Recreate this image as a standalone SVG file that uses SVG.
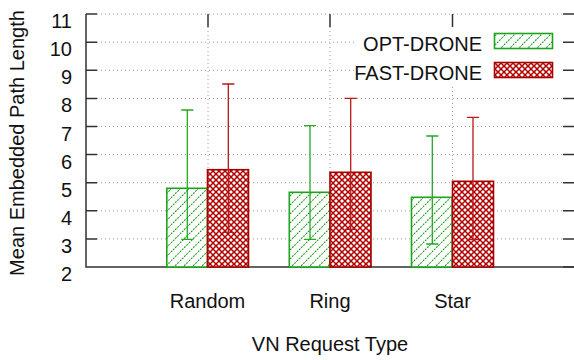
<svg xmlns="http://www.w3.org/2000/svg" width="574" height="360" viewBox="0 0 574 360">
<style>
text{font-family:"Liberation Sans",Arial,sans-serif;font-size:20px;fill:#111}
.grid{stroke:#9a9a9a;stroke-width:1;stroke-dasharray:1,3;fill:none}
.axis{stroke:#333;stroke-width:1.5;fill:none}
.gbar{fill:url(#hatchG);stroke:#1da41d;stroke-width:1.6}
.rbar{fill:url(#hatchR);stroke:#a80000;stroke-width:1.6}
.gerr{stroke:#22a822;stroke-width:1.3;fill:none}
.rerr{stroke:#b81818;stroke-width:1.3;fill:none}
.ytl{text-anchor:end}
.xtl{text-anchor:middle}
</style>
<defs>
<pattern id="hatchG" patternUnits="userSpaceOnUse" width="9" height="9">
<rect width="9" height="9" fill="#fff"/>
<path d="M0,9 L9,0" stroke="#129c12" stroke-width="1.1" stroke-dasharray="1.8,1.2"/>
</pattern>
<pattern id="hatchR" patternUnits="userSpaceOnUse" width="6" height="6">
<rect width="6" height="6" fill="#fff"/>
<path d="M-1,-1 L7,7 M-1,7 L7,-1" stroke="#b00000" stroke-width="1.5"/>
</pattern>
</defs>
<rect width="574" height="360" fill="#fff"/>
<g id="grid">
<path class="grid" d="M97,14.1H563M97,42.2H563M97,70.3H563M97,98.4H563M97,126.5H563M97,154.6H563M97,182.7H563M97,210.8H563M97,238.9H563"/>
<path class="grid" d="M208,27V267M330,27V267M452.5,27V267"/>
</g>
<g id="axes">
<path class="axis" d="M86,14V267H574"/>
<path class="axis" d="M86,14.1H97M86,42.2H97M86,70.3H97M86,98.4H97M86,126.5H97M86,154.6H97M86,182.7H97M86,210.8H97M86,238.9H97"/>
<path class="axis" d="M563,14.1H574M563,42.2H574M563,70.3H574M563,98.4H574M563,126.5H574M563,154.6H574M563,182.7H574M563,210.8H574M563,238.9H574M563,267H574"/>
<path class="axis" d="M208,14V27M330,14V27M452.5,14V27"/>
</g>
<g id="ytick-labels">
<text class="ytl" x="72" y="28">11</text>
<text class="ytl" x="72" y="56">10</text>
<text class="ytl" x="72" y="84">9</text>
<text class="ytl" x="72" y="112">8</text>
<text class="ytl" x="72" y="141">7</text>
<text class="ytl" x="72" y="169">6</text>
<text class="ytl" x="72" y="197">5</text>
<text class="ytl" x="72" y="225">4</text>
<text class="ytl" x="72" y="253">3</text>
<text class="ytl" x="72" y="281">2</text>
</g>
<g id="legend">
<rect x="357" y="27" width="205" height="58" fill="#fff"/>
<text x="482" y="51" text-anchor="end">OPT-DRONE</text>
<rect class="gbar" x="494.5" y="33.5" width="58" height="15"/>
<text x="482" y="80" text-anchor="end">FAST-DRONE</text>
<rect class="rbar" x="494.5" y="62.5" width="58" height="15"/>
</g>
<g id="bar-random-opt">
<rect class="gbar" x="166.8" y="188.3" width="40.7" height="78.7"/>
<path class="gerr" d="M187.3,110V239.3M181.2,110H193.4M181.2,239.3H193.4"/>
</g>
<g id="bar-random-fast">
<rect class="rbar" x="207.5" y="169.7" width="41" height="97.3"/>
<path class="rerr" d="M228.3,84V232.3M222.2,84H234.4M222.2,232.3H234.4"/>
</g>
<g id="bar-ring-opt">
<rect class="gbar" x="289.3" y="192.3" width="40.7" height="74.7"/>
<path class="gerr" d="M310,125.7V239.3M303.9,125.7H316.1M303.9,239.3H316.1"/>
</g>
<g id="bar-ring-fast">
<rect class="rbar" x="330" y="172.3" width="41" height="94.7"/>
<path class="rerr" d="M350.7,98.3V229.3M344.6,98.3H356.8M344.6,229.3H356.8"/>
</g>
<g id="bar-star-opt">
<rect class="gbar" x="411.5" y="197.3" width="40.7" height="69.7"/>
<path class="gerr" d="M432.3,136V244M426.2,136H438.4M426.2,244H438.4"/>
</g>
<g id="bar-star-fast">
<rect class="rbar" x="452.5" y="181.3" width="41" height="85.7"/>
<path class="rerr" d="M473,117.3V239.7M466.9,117.3H479.1M466.9,239.7H479.1"/>
</g>
<g id="xtick-labels">
<text class="xtl" x="207.5" y="308">Random</text>
<text class="xtl" x="330" y="308">Ring</text>
<text class="xtl" x="452.5" y="308">Star</text>
</g>
<g id="axis-titles">
<text x="330" y="351" text-anchor="middle">VN Request Type</text>
<text transform="translate(24,143) rotate(-90)" text-anchor="middle">Mean Embedded Path Length</text>
</g>
</svg>
